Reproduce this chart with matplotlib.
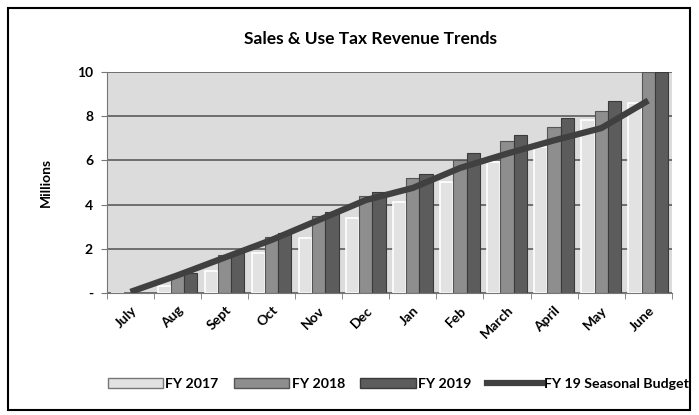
import numpy as np
import matplotlib
matplotlib.use('Agg')
import matplotlib.pyplot as plt
from matplotlib.patches import Rectangle
from matplotlib.lines import Line2D
from matplotlib.patches import Patch

plt.rcParams['font.family'] = ['Lato', 'DejaVu Sans']

months = ['July', 'Aug', 'Sept', 'Oct', 'Nov', 'Dec', 'Jan', 'Feb',
          'March', 'April', 'May', 'June']
fy2017 = [0.0, 0.3, 1.0, 1.8, 2.5, 3.4, 4.1, 5.0, 5.9, 6.6, 7.8, 8.6]
fy2018 = [0.0, 0.8, 1.7, 2.55, 3.5, 4.4, 5.2, 6.0, 6.85, 7.5, 8.25, 10.0]
fy2019 = [0.0, 0.9, 1.8, 2.7, 3.65, 4.55, 5.4, 6.35, 7.15, 7.9, 8.7, 10.0]
budget = [0.05, 0.8, 1.6, 2.4, 3.3, 4.2, 4.75, 5.65, 6.3, 6.9, 7.45, 8.7]
y_ticks = [0, 2, 4, 6, 8, 10]
y_labels = ['-', '2', '4', '6', '8', '10']

c17, c18, c19 = '#e2e2e2', '#8e8e8e', '#5c5c5c'
line_c = '#404040'

fig = plt.figure(figsize=(6.99, 4.15), dpi=100)
ax = fig.add_axes([0.153, 0.294, 0.808, 0.533])
ax.set_facecolor('#dcdcdc')

x = np.arange(len(months))
w = 0.28
ax.bar(x - w, fy2017, w, color=c17, edgecolor='white', linewidth=1.2, zorder=2)
ax.bar(x, fy2018, w, color=c18, edgecolor='#555555', linewidth=0.8, zorder=2)
ax.bar(x + w, fy2019, w, color=c19, edgecolor='#3a3a3a', linewidth=0.8, zorder=2)
ax.plot(x, budget, color=line_c, linewidth=4.5, solid_capstyle='butt', zorder=3)

ax.set_xlim(-0.5, len(months) - 0.5)
ax.set_ylim(0, 10)
ax.set_yticks(y_ticks)
ax.set_yticklabels(y_labels, fontsize=10, fontweight='bold')
ax.yaxis.grid(True, color='#666666', linewidth=1.3, zorder=1)
ax.set_axisbelow(True)

ax.set_xticks(x)
ax.set_xticklabels(months, rotation=45, ha='right', rotation_mode='anchor',
                   fontsize=10, fontweight='bold')
ax.tick_params(axis='x', length=0, pad=8)
ax.set_xticks(np.arange(-0.5, len(months)), minor=True)
ax.tick_params(axis='x', which='minor', length=4, color='#777777')
ax.tick_params(axis='y', length=4, color='#777777', pad=6)

for s in ['top', 'right']:
    ax.spines[s].set_visible(False)
ax.spines['left'].set_color('#777777')
ax.spines['bottom'].set_color('#777777')

ax.set_ylabel('Millions', fontsize=10, fontweight='bold', labelpad=18)
fig.text(0.53, 0.905, 'Sales & Use Tax Revenue Trends', ha='center',
         va='center', fontsize=12.5, fontweight='bold')

handles = [Patch(facecolor=c17, edgecolor='#777777'),
           Patch(facecolor=c18, edgecolor='#555555'),
           Patch(facecolor=c19, edgecolor='#3a3a3a'),
           Line2D([0], [0], color=line_c, linewidth=4.5)]
labels = ['FY 2017', 'FY 2018', 'FY 2019', 'FY 19 Seasonal Budget']
fig.legend(handles, labels, loc='center', bbox_to_anchor=(0.57, 0.075),
           ncol=4, frameon=False, handlelength=3.9, handletextpad=0.15,
           columnspacing=1.1, prop={'size': 10.2, 'weight': 'bold'})

fig.patches.append(Rectangle((0.012, 0.012), 0.975, 0.968, fill=False,
                             edgecolor='black', linewidth=1.5,
                             transform=fig.transFigure, figure=fig))

fig.savefig('out.png', dpi=100)
